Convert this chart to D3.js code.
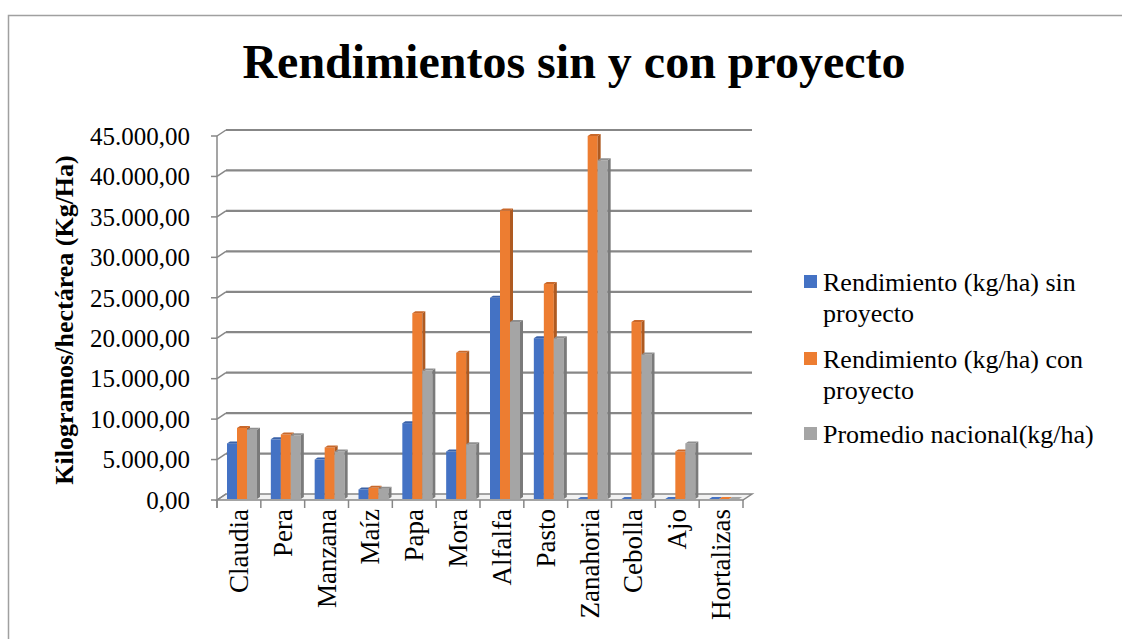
<!DOCTYPE html>
<html>
<head>
<meta charset="utf-8">
<script src="https://cdn.jsdelivr.net/npm/d3@7"></script>
<style>
  body { margin: 0; background: #fff; }
</style>
</head>
<body>
<svg id="chart" width="1122" height="639"></svg>
<script>
// categories and the three series (kg/ha)
var cultivos = ["Claudia", "Pera", "Manzana", "Maíz", "Papa", "Mora", "Alfalfa", "Pasto", "Zanahoria", "Cebolla", "Ajo", "Hortalizas"];
var sinProyecto = [7000, 7500, 5000, 1300, 9500, 6000, 25000, 20000, 0, 0, 0, 0];
var conProyecto = [8900, 8100, 6500, 1500, 23100, 18200, 35800, 26700, 45000, 22000, 6000, 0];
var promedioNacional = [8700, 8000, 6000, 1400, 16000, 6900, 22000, 20000, 42000, 18000, 7000, 0];
var yTicks = [0, 5000, 10000, 15000, 20000, 25000, 30000, 35000, 40000, 45000];

var series = [
  {lines: ["Rendimiento (kg/ha) sin", "proyecto"], values: sinProyecto,
   front: "#4472c4", side: "#2f528f", top: "#3a62a8"},
  {lines: ["Rendimiento (kg/ha) con", "proyecto"], values: conProyecto,
   front: "#ed7d31", side: "#ae5a21", top: "#c9682a"},
  {lines: ["Promedio nacional(kg/ha)"], values: promedioNacional,
   front: "#a5a5a5", side: "#7a7a7a", top: "#8f8f8f"}
];

var serif = "'Liberation Serif', 'Times New Roman', 'DejaVu Serif', serif";
var svg = d3.select("#chart");

// chart area border
svg.append("rect")
    .attr("x", 8.5).attr("y", 15.5)
    .attr("width", 1200).attr("height", 700)
    .attr("fill", "none").attr("stroke", "#a0a0a0").attr("stroke-width", 1.5);

// front plane of the plot
var x0 = 217, x1 = 743, yBase = 500, yTop = 136;
// depth offset of the back wall
var dx = 9, dy = -6;

var x = d3.scaleBand().domain(cultivos).range([x0, x1]).paddingInner(0).paddingOuter(0);
var y = d3.scaleLinear().domain([0, 45000]).range([yBase, yTop]);

var fmt = function(v) {
  return d3.format(",.2f")(v).replace(/,/g, "#").replace(".", ",").replace(/#/g, ".");
};

var grid = svg.append("g");
var gridColor = "#878787";

// floor slab
grid.append("path")
    .attr("d", "M" + x0 + "," + yBase + " L" + (x0 + dx) + "," + (yBase + dy) +
               " L" + (x1 + dx) + "," + (yBase + dy) + " L" + x1 + "," + yBase + " Z")
    .attr("fill", "#f2f2f2").attr("stroke", gridColor).attr("stroke-width", 1.5);

// back wall gridlines + diagonals + left ticks
yTicks.forEach(function(t) {
  var yy = y(t);
  if (t > 0) {
    grid.append("line")
        .attr("x1", x0 + dx).attr("x2", x1 + dx)
        .attr("y1", yy + dy).attr("y2", yy + dy)
        .attr("stroke", gridColor).attr("stroke-width", 2.2);
  }
  grid.append("line")
      .attr("x1", x0).attr("x2", x0 + dx)
      .attr("y1", yy).attr("y2", yy + dy)
      .attr("stroke", gridColor).attr("stroke-width", 1.5);
  grid.append("line")
      .attr("x1", x0 - 6).attr("x2", x0)
      .attr("y1", yy).attr("y2", yy)
      .attr("stroke", gridColor).attr("stroke-width", 1.5);
  svg.append("text")
      .attr("x", 190).attr("y", yy)
      .attr("dy", "0.35em")
      .attr("text-anchor", "end")
      .style("font-family", serif)
      .style("font-size", "25px")
      .text(fmt(t));
});

// vertical axis line
grid.append("line")
    .attr("x1", x0).attr("x2", x0)
    .attr("y1", yTop).attr("y2", yBase + 8)
    .attr("stroke", gridColor).attr("stroke-width", 1.5);

// category ticks
d3.range(cultivos.length + 1).forEach(function(i) {
  var xx = i < cultivos.length ? x(cultivos[i]) : x1;
  grid.append("line")
      .attr("x1", xx).attr("x2", xx)
      .attr("y1", yBase).attr("y2", yBase + 8)
      .attr("stroke", gridColor).attr("stroke-width", 1.5);
});

// bars
var bw = 10, bdx = 3, bdy = -2, bBase = yBase - 1;
var bars = svg.append("g");
cultivos.forEach(function(c, i) {
  series.forEach(function(s, k) {
    var v = s.values[i];
    var bx = x(c) + 10 + k * bw;
    var by = Math.min(y(v), bBase);
    var g = bars.append("g");
    if (v > 0) {
      g.append("rect").attr("x", bx).attr("y", by).attr("width", bw).attr("height", bBase - by)
          .attr("fill", s.front);
      g.append("path")
          .attr("d", "M" + (bx + bw) + "," + by + " L" + (bx + bw + bdx) + "," + (by + bdy) +
                     " L" + (bx + bw + bdx) + "," + (bBase + bdy) + " L" + (bx + bw) + "," + bBase + " Z")
          .attr("fill", s.side);
    }
    g.append("path")
        .attr("d", "M" + bx + "," + by + " L" + (bx + bdx) + "," + (by + bdy) +
                   " L" + (bx + bw + bdx) + "," + (by + bdy) + " L" + (bx + bw) + "," + by + " Z")
        .attr("fill", v > 0 ? s.top : s.front);
  });
});

// category labels
cultivos.forEach(function(c) {
  var cx = x(c) + x.bandwidth() / 2;
  svg.append("text")
      .attr("transform", "translate(" + (cx + 9) + "," + 509 + ") rotate(-90)")
      .attr("text-anchor", "end")
      .style("font-family", serif)
      .style("font-size", "27px")
      .text(c);
});

// title
svg.append("text")
    .attr("x", 574).attr("y", 78)
    .attr("text-anchor", "middle")
    .style("font-family", serif)
    .style("font-size", "48px").style("font-weight", "bold")
    .text("Rendimientos sin y con proyecto");

// y axis title
svg.append("text")
    .attr("transform", "translate(73,320) rotate(-90)")
    .attr("text-anchor", "middle")
    .style("font-family", serif)
    .style("font-size", "26px").style("font-weight", "bold")
    .text("Kilogramos/hectárea (Kg/Ha)");

// legend
var legY = [282, 359, 434];
series.forEach(function(s, k) {
  var ly = legY[k];
  svg.append("rect").attr("x", 804).attr("y", ly - 7).attr("width", 13).attr("height", 13)
      .attr("fill", s.front);
  s.lines.forEach(function(line, j) {
    svg.append("text")
        .attr("x", 823).attr("y", ly + 9 + j * 31)
        .style("font-family", serif)
        .style("font-size", "26px")
        .text(line);
  });
});
</script>
</body>
</html>
